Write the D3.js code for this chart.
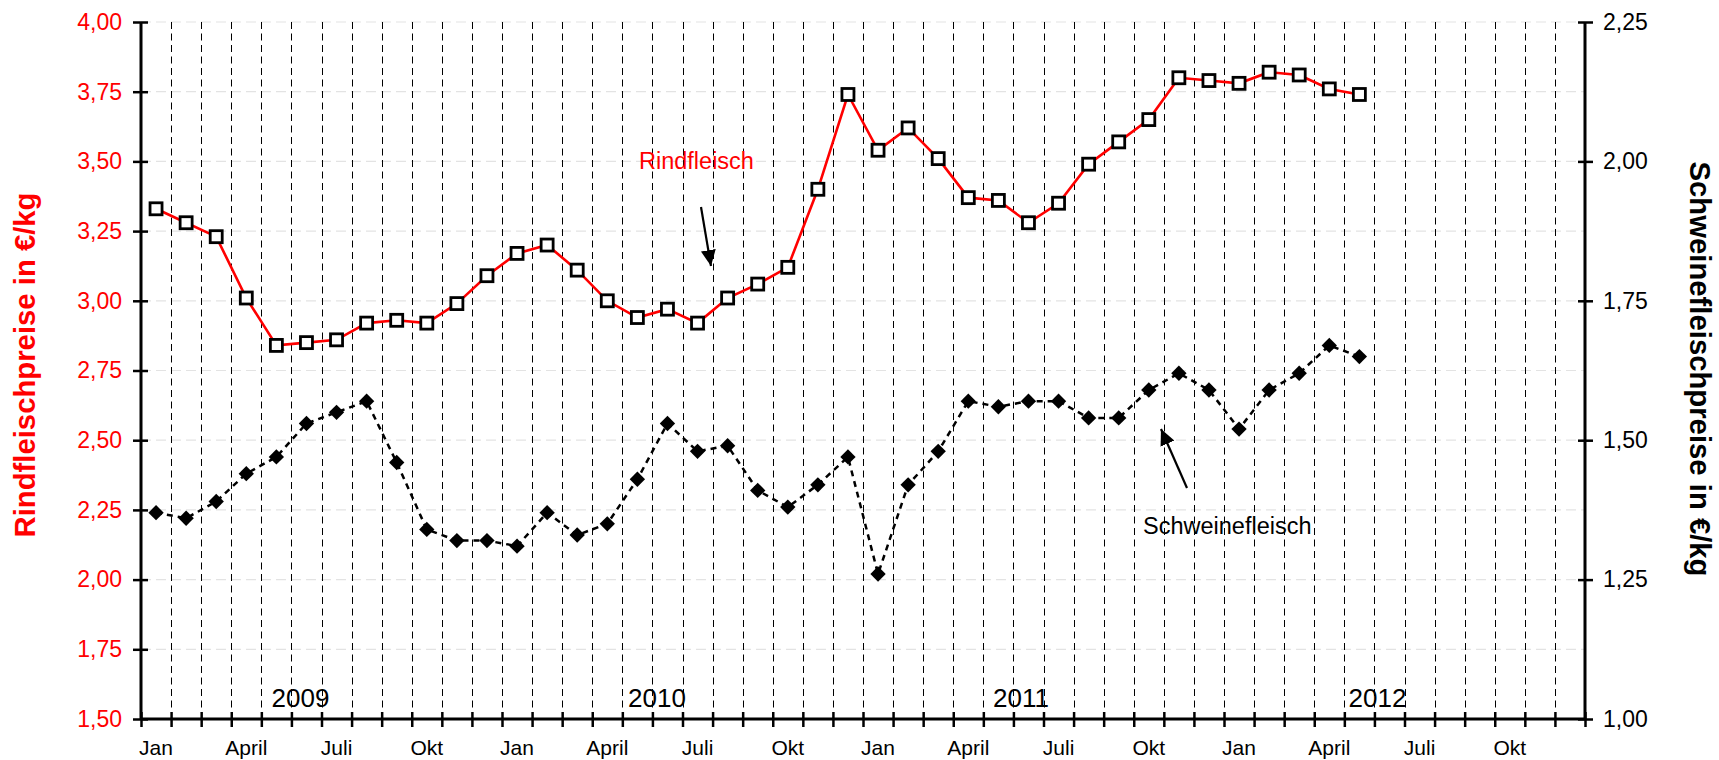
<!DOCTYPE html>
<html>
<head>
<meta charset="utf-8">
<script src="https://cdn.jsdelivr.net/npm/d3@7"></script>
<style>
  html, body { margin: 0; padding: 0; background: #fff; }
  svg { display: block; font-family: "Liberation Sans", Arial, Helvetica, sans-serif; }
</style>
</head>
<body>
<svg id="chart" width="1719" height="760"></svg>
<script>
// ---------------- DATA ----------------
const years = ["2009", "2010", "2011", "2012"];
const monthLabels = ["Jan", "April", "Juli", "Okt"];
const leftTicks = [1.50, 1.75, 2.00, 2.25, 2.50, 2.75, 3.00, 3.25, 3.50, 3.75, 4.00];
const rightTicks = [1.00, 1.25, 1.50, 1.75, 2.00, 2.25];
// Monthly prices from Jan 2009 to May 2012
const rindfleisch = [
  3.33, 3.28, 3.23, 3.01, 2.84, 2.85, 2.86, 2.92, 2.93, 2.92, 2.99, 3.09,
  3.17, 3.20, 3.11, 3.00, 2.94, 2.97, 2.92, 3.01, 3.06, 3.12, 3.40, 3.74,
  3.54, 3.62, 3.51, 3.37, 3.36, 3.28, 3.35, 3.49, 3.57, 3.65, 3.80, 3.79,
  3.78, 3.82, 3.81, 3.76, 3.74
];
const schweinefleisch = [
  1.37, 1.36, 1.39, 1.44, 1.47, 1.53, 1.55, 1.57, 1.46, 1.34, 1.32, 1.32,
  1.31, 1.37, 1.33, 1.35, 1.43, 1.53, 1.48, 1.49, 1.41, 1.38, 1.42, 1.47,
  1.26, 1.42, 1.48, 1.57, 1.56, 1.57, 1.57, 1.54, 1.54, 1.59, 1.62, 1.59,
  1.52, 1.59, 1.62, 1.67, 1.65
];

// ---------------- LAYOUT ----------------
const svg = d3.select("#chart");
const L = 141, R = 1585, T = 22, B = 719;
const nMonths = years.length * 12;

const x = d3.scaleLinear().domain([0, nMonths]).range([L, R]);
const yL = d3.scaleLinear().domain([1.5, 4.0]).range([B, T]);
const yR = d3.scaleLinear().domain([1.0, 2.25]).range([B, T]);
const fmt = v => d3.format(".2f")(v).replace(".", ",");

// horizontal grid
svg.append("g").selectAll("line").data(leftTicks.filter(v => v > 1.5)).join("line")
  .attr("x1", L).attr("x2", R)
  .attr("y1", d => yL(d)).attr("y2", d => yL(d))
  .attr("stroke", "#e3e3e3").attr("stroke-width", 1.2).attr("stroke-dasharray", "10,5");

// vertical month dashed lines
svg.append("g").selectAll("line").data(d3.range(1, nMonths)).join("line")
  .attr("x1", d => Math.round(x(d)) + 0.5).attr("x2", d => Math.round(x(d)) + 0.5)
  .attr("y1", T).attr("y2", B)
  .attr("stroke", "#000").attr("stroke-width", 1).attr("stroke-dasharray", "7,4.5");

// axes
const axisStyle = g => {
  g.select(".domain").remove();
  g.selectAll(".tick line").attr("stroke", "#000").attr("stroke-width", 2.5);
  g.selectAll(".tick text").attr("font-size", 23);
};
const gL = svg.append("g").attr("transform", `translate(${L},0)`)
  .call(d3.axisLeft(yL).tickValues(leftTicks).tickFormat(fmt).tickSize(0))
  .call(axisStyle);
gL.selectAll(".tick").append("line").attr("x1", -8).attr("x2", 7)
  .attr("stroke", "#000").attr("stroke-width", 2.5);
gL.selectAll(".tick text").attr("x", -19).attr("fill", "#ff0000");

const gR = svg.append("g").attr("transform", `translate(${R},0)`)
  .call(d3.axisRight(yR).tickValues(rightTicks).tickFormat(fmt).tickSize(0))
  .call(axisStyle);
gR.selectAll(".tick").append("line").attr("x1", -7).attr("x2", 8)
  .attr("stroke", "#000").attr("stroke-width", 2.5);
gR.selectAll(".tick text").attr("x", 18).attr("fill", "#000");

const gB = svg.append("g").attr("transform", `translate(0,${B})`)
  .call(d3.axisBottom(x).tickValues(d3.range(0, nMonths + 1)).tickFormat("").tickSize(0))
  .call(axisStyle);
gB.selectAll(".tick").append("line").attr("y1", -7).attr("y2", 8)
  .attr("stroke", "#000").attr("stroke-width", 2.5);

// axis lines (thick)
svg.append("line").attr("x1", L).attr("x2", L).attr("y1", T).attr("y2", B + 1)
  .attr("stroke", "#000").attr("stroke-width", 3);
svg.append("line").attr("x1", R).attr("x2", R).attr("y1", T).attr("y2", B + 1)
  .attr("stroke", "#000").attr("stroke-width", 3);
svg.append("line").attr("x1", L).attr("x2", R).attr("y1", B).attr("y2", B)
  .attr("stroke", "#000").attr("stroke-width", 3);

// month labels
const monthData = [];
years.forEach((yr, yi) => monthLabels.forEach((m, mi) => monthData.push({ label: m, idx: yi * 12 + mi * 3 })));
svg.append("g").selectAll("text").data(monthData).join("text")
  .attr("x", d => x(d.idx + 0.5)).attr("y", 755)
  .attr("text-anchor", "middle").attr("font-size", 21).attr("fill", "#000")
  .text(d => d.label);

// year labels (placed inside plot near bottom)
const yearOffsets = [5.3, 5.15, 5.25, 5.1];
svg.append("g").selectAll("text").data(years).join("text")
  .attr("x", (d, i) => x(i * 12 + yearOffsets[i])).attr("y", 707)
  .attr("text-anchor", "middle").attr("font-size", 26).attr("fill", "#000")
  .text(d => d);

// pork line (dashed black, right axis)
const linePork = d3.line().x((d, i) => x(i + 0.5)).y(d => yR(d));
svg.append("path").datum(schweinefleisch).attr("d", linePork)
  .attr("fill", "none").attr("stroke", "#000").attr("stroke-width", 2.5)
  .attr("stroke-dasharray", "6,5");
svg.append("g").selectAll("path").data(schweinefleisch).join("path")
  .attr("transform", (d, i) => `translate(${x(i + 0.5)},${yR(d)})`)
  .attr("d", d3.symbol(d3.symbolDiamond2, 150)())
  .attr("fill", "#000");

// beef line (red, left axis)
const lineRind = d3.line().x((d, i) => x(i + 0.5)).y(d => yL(d));
svg.append("path").datum(rindfleisch).attr("d", lineRind)
  .attr("fill", "none").attr("stroke", "#ff0000").attr("stroke-width", 2.6);
svg.append("g").selectAll("rect").data(rindfleisch).join("rect")
  .attr("x", (d, i) => x(i + 0.5) - 6).attr("y", d => yL(d) - 6)
  .attr("width", 12).attr("height", 12)
  .attr("fill", "#fff").attr("stroke", "#000").attr("stroke-width", 2.8);

// annotations
const defs = svg.append("defs");
defs.append("marker").attr("id", "arrow").attr("viewBox", "0 0 16 15")
  .attr("refX", 16).attr("refY", 7.5).attr("markerWidth", 16).attr("markerHeight", 15)
  .attr("markerUnits", "userSpaceOnUse").attr("orient", "auto")
  .append("path").attr("d", "M0,0 L16,7.5 L0,15 Z").attr("fill", "#000");

svg.append("text").attr("x", 639).attr("y", 169).attr("font-size", 23.5)
  .attr("fill", "#ff0000").text("Rindfleisch");
svg.append("line").attr("x1", 701).attr("y1", 207).attr("x2", 711).attr("y2", 266)
  .attr("stroke", "#000").attr("stroke-width", 2.2).attr("marker-end", "url(#arrow)");

svg.append("text").attr("x", 1143).attr("y", 534).attr("font-size", 23.5)
  .attr("text-anchor", "start").attr("fill", "#000").text("Schweinefleisch");
svg.append("line").attr("x1", 1187).attr("y1", 488).attr("x2", 1161).attr("y2", 429)
  .attr("stroke", "#000").attr("stroke-width", 2.2).attr("marker-end", "url(#arrow)");

// axis titles
svg.append("text").attr("transform", "translate(35,365) rotate(-90)")
  .attr("text-anchor", "middle").attr("font-size", 29).attr("font-weight", "bold")
  .attr("fill", "#ff0000").attr("textLength", 345).attr("lengthAdjust", "spacingAndGlyphs")
  .text("Rindfleischpreise in €/kg");
svg.append("text").attr("transform", "translate(1690,369) rotate(90)")
  .attr("text-anchor", "middle").attr("font-size", 30).attr("font-weight", "bold")
  .attr("fill", "#000").attr("textLength", 415).attr("lengthAdjust", "spacingAndGlyphs")
  .text("Schweinefleischpreise in €/kg");
</script>
</body>
</html>
